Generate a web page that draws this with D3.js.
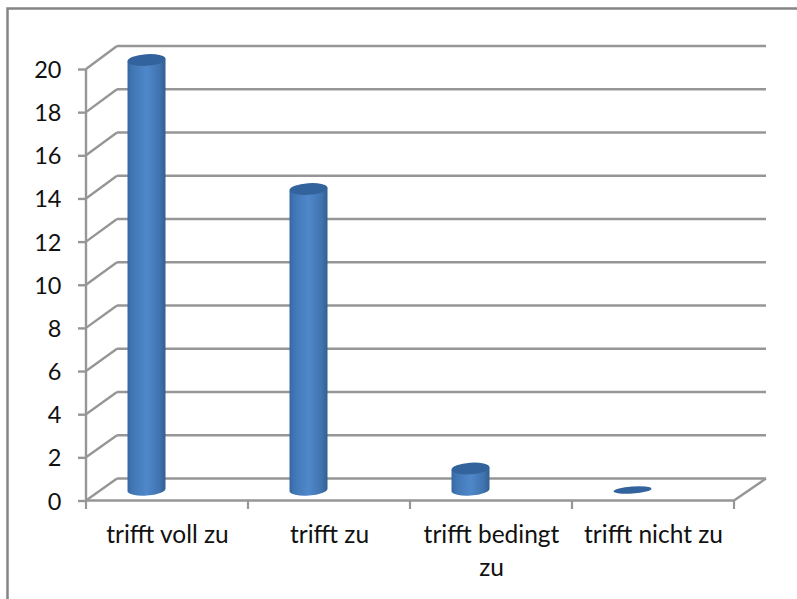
<!DOCTYPE html>
<html><head><meta charset="utf-8">
<script src="https://cdn.jsdelivr.net/npm/d3@7"></script>
<style>html,body{margin:0;padding:0;background:#fff;overflow:hidden}svg{display:block}text{font-family:Lato,"Open Sans",sans-serif;fill:#111}</style>
</head><body><svg id="c" width="797" height="599"></svg>
<script>
const categories = [["trifft voll zu"],["trifft zu"],["trifft bedingt","zu"],["trifft nicht zu"]];
const values = [20,14,1,0];
const yTicks = [0,2,4,6,8,10,12,14,16,18,20];

const svg = d3.select("#c");
const defs = svg.append("defs");
const grad = defs.append("linearGradient").attr("id","cyl").attr("x1",0).attr("x2",1).attr("y1",0).attr("y2",0);
[[0,"#36689f"],[0.12,"#4076b4"],[0.5,"#5088ca"],[0.85,"#3f73af"],[1,"#335f90"]].forEach(d=>grad.append("stop").attr("offset",d[0]).attr("stop-color",d[1]));
defs.append("filter").attr("id","soft").attr("x","-5%").attr("y","-5%").attr("width","110%").attr("height","110%")
  .append("feGaussianBlur").attr("stdDeviation",0.6);

// frame (open on the right and bottom, cropped)
svg.append("path").attr("d","M7.5,599V8.5H797").attr("fill","none").attr("stroke","#858585").attr("stroke-width",2.5);

const x = d3.scaleBand().domain(d3.range(categories.length)).range([86,734]);
const yFront = d3.scaleLinear().domain([0,20]).range([500.5,69]);
const yBack = d3.scaleLinear().domain([0,20]).range([478.5,46]);
const yBar = d3.scaleLinear().domain([0,20]).range([490,60]);
const dx = 31, barShift = -20.5, rx = 19, ry = 5.5, tilt = -4;

const g = svg.append("g").attr("filter","url(#soft)");
const grid = "#969696";
g.selectAll("line.back").data(yTicks).join("line").attr("class","back")
  .attr("x1",86+dx).attr("x2",734+dx+1).attr("y1",d=>yBack(d)).attr("y2",d=>yBack(d))
  .attr("stroke",grid).attr("stroke-width",2.4);
g.selectAll("line.diag").data(yTicks).join("line").attr("class","diag")
  .attr("x1",86).attr("x2",86+dx).attr("y1",d=>yFront(d)).attr("y2",d=>yBack(d))
  .attr("stroke",grid).attr("stroke-width",2.4);
g.append("line").attr("x1",734).attr("x2",734+dx+1).attr("y1",yFront(0)).attr("y2",yBack(0)).attr("stroke",grid).attr("stroke-width",2.4);

const axisL = d3.axisLeft(yFront).tickValues(yTicks).tickSize(8).tickFormat("");
const ga = g.append("g").attr("transform","translate(86,0)").call(axisL);
ga.select(".domain").attr("d",`M0,${yFront(20)}V${yFront(0)}`);
ga.selectAll("path,line").attr("stroke",grid).attr("stroke-width",2.4);
const edges = d3.range(categories.length+1).map(i=>86+i*x.bandwidth());
const gb = g.append("g");
gb.append("line").attr("x1",86).attr("x2",734).attr("y1",yFront(0)).attr("y2",yFront(0)).attr("stroke",grid).attr("stroke-width",2.6);
gb.selectAll("line.t").data(edges).join("line").attr("class","t").attr("x1",d=>d).attr("x2",d=>d)
  .attr("y1",yFront(0)).attr("y2",yFront(0)+8.5).attr("stroke",grid).attr("stroke-width",2.2);

const dyT = rx*Math.sin(tilt*Math.PI/180);
const bars = g.selectAll("g.bar").data(values).join("g").attr("class","bar");
bars.each(function(v,i){
  const cx = x(i)+x.bandwidth()/2+barShift, s = d3.select(this);
  const yb = yBar(0), yt = yBar(v);
  if(v>0){
    s.append("path").attr("fill","url(#cyl)")
     .attr("d",`M${cx-rx},${yt-dyT}L${cx-rx},${yb-dyT}A${rx},${ry} ${tilt} 0 0 ${cx+rx},${yb+dyT}L${cx+rx},${yt+dyT}Z`);
  }
  s.append("ellipse").attr("cx",cx).attr("cy",yt).attr("rx",rx).attr("ry",v>0?ry+0.3:3.6)
   .attr("transform",`rotate(${tilt} ${cx} ${yt})`).attr("fill","#33649c");
});

svg.selectAll("text.yl").data(yTicks).join("text").attr("class","yl")
  .attr("x",61.5).attr("y",d=>yFront(d)+9).attr("text-anchor","end").attr("font-size",23.5).text(d=>d);
const xl = svg.selectAll("g.xl").data(categories).join("g").attr("class","xl");
xl.each(function(lines,i){
  d3.select(this).selectAll("text").data(lines).join("text")
    .attr("x",x(i)+x.bandwidth()/2+0.5).attr("y",(d,j)=>543+j*33).attr("text-anchor","middle").attr("font-size",24.5).text(d=>d);
});
</script></body></html>
